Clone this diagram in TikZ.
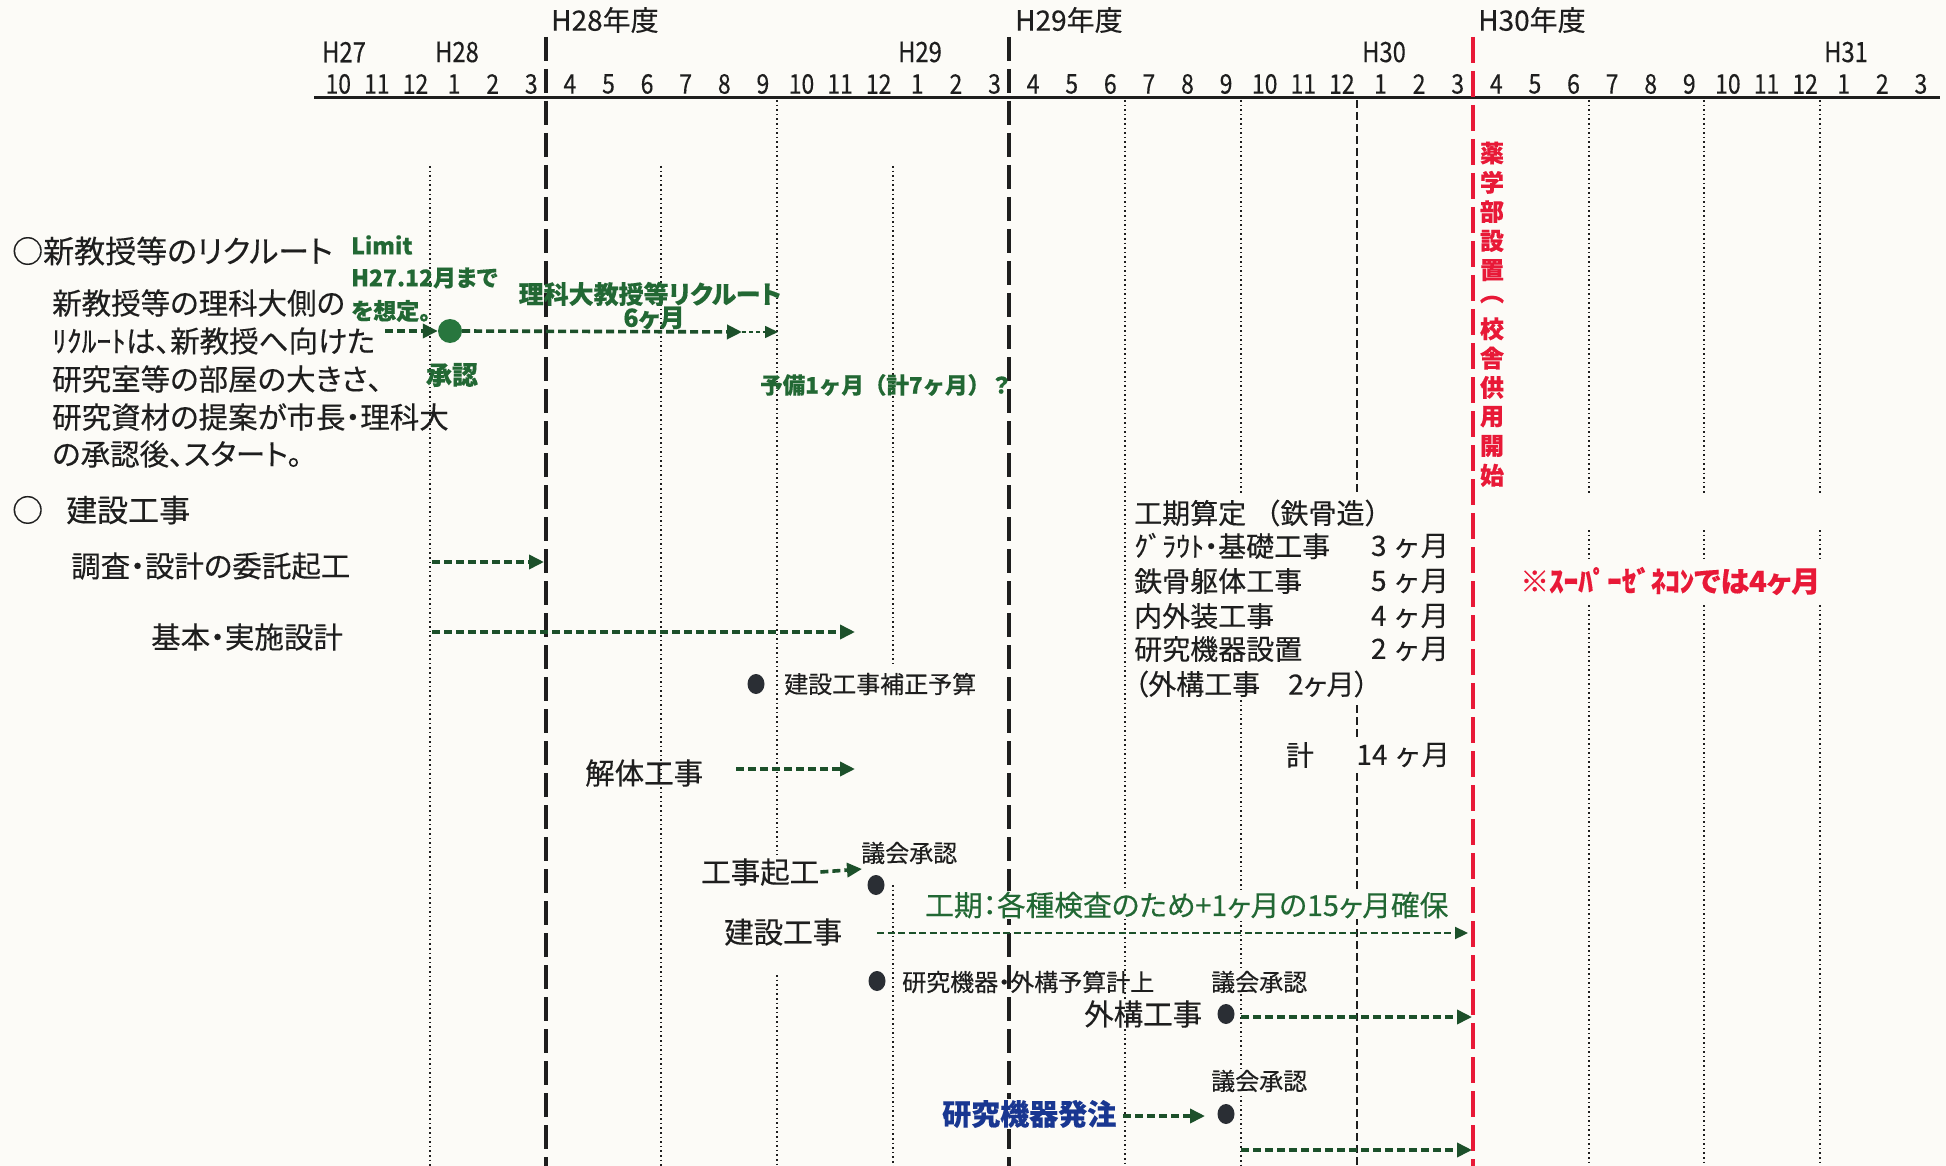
\documentclass[tikz,border=0pt]{standalone}
\usepackage{fontspec}
\setmainfont{Noto Sans CJK JP}[RawFeature=+palt, FakeBold=0.3]
\newfontfamily\fullw{Noto Sans CJK JP}[FakeBold=0.3]
\newfontfamily\narrowf{Noto Sans CJK JP}[FakeStretch=0.85, FakeBold=0.3]
\usetikzlibrary{arrows.meta,shapes.geometric}
\definecolor{paper}{RGB}{252,251,247}
\definecolor{ink}{RGB}{30,30,30}
\definecolor{gtext}{RGB}{34,104,52}
\definecolor{garrow}{RGB}{28,80,42}
\definecolor{gdotc}{RGB}{40,118,62}
\definecolor{dotk}{RGB}{42,46,52}
\definecolor{redc}{RGB}{232,25,55}
\definecolor{bluec}{RGB}{25,55,145}
\newcommand\myfs[1]{\fontsize{#1pt}{#1pt}\selectfont}
\tikzset{
  txt/.style={inner sep=0pt, anchor=west, text=ink, font=\myfs{29.5}},
  hdr/.style={inner sep=0pt, anchor=west, text=ink, font=\myfs{31}},
  small/.style={inner sep=0pt, anchor=west, text=ink, font=\myfs{24}},
  tab/.style={inner sep=0pt, text=ink, font=\fullw\myfs{28}},
  tabp/.style={inner sep=0pt, text=ink, font=\myfs{28}},
  gt/.style={inner sep=0pt, text=gtext, font=\bfseries\myfs{23}},
  mon/.style={inner sep=0pt, text=ink, font=\narrowf\myfs{27}},
  yr/.style={inner sep=0pt, text=ink, font=\narrowf\myfs{28}},
  fy/.style={inner sep=0pt, anchor=west, text=ink, font=\fullw\myfs{28}},
  redv/.style={inner sep=0pt, text=redc, font=\bfseries\myfs{24}},
  masked/.style={fill=paper, inner sep=1pt},
  dotline/.style={draw=ink, line width=1.6pt, dash pattern=on 1.6pt off 3pt},
  dashline/.style={draw=ink, line width=1.6pt, dash pattern=on 8pt off 4pt},
  fyline/.style={draw=ink, line width=4pt, dash pattern=on 24pt off 8pt},
  redline/.style={draw=redc, line width=4.5pt, dash pattern=on 26pt off 8pt},
  garr/.style={draw=garrow, line width=3.6pt, dash pattern=on 8pt off 4pt, -{Triangle[length=15pt,width=14pt]}},
  garrthin/.style={draw=garrow, line width=2.2pt, dash pattern=on 7pt off 3.5pt, -{Triangle[length=13pt,width=12pt]}},
  kdot/.style={ellipse, fill=dotk, minimum width=17pt, minimum height=20pt, inner sep=0pt},
}
\begin{document}
\begin{tikzpicture}[x=1pt,y=-1pt]
\fill[paper] (0,0) rectangle (1946,1166);
\useasboundingbox (0,0) rectangle (1946,1166);

% ---------- time axis ----------
\coordinate (axL) at (314,98);
\coordinate (axR) at (1940,98);
\draw[ink, line width=3pt] (axL) -- (axR);
\foreach \lab [count=\k from 0] in {10,11,12,1,2,3,4,5,6,7,8,9,10,11,12,1,2,3,4,5,6,7,8,9,10,11,12,1,2,3,4,5,6,7,8,9,10,11,12,1,2,3}
  \node[mon] (mon\k) at ({319+(\k+0.5)*38.6},84) {\lab};
\node[yr] (yH27) at (344,52) {H27};
\node[yr] (yH28) at (457,52) {H28};
\node[yr] (yH29) at (920,52) {H29};
\node[yr] (yH30) at (1384,52) {H30};
\node[yr] (yH31) at (1846,52) {H31};
\node[fy] (fy28) at (551,20) {H28年度};
\node[fy] (fy29) at (1015,20) {H29年度};
\node[fy] (fy30) at (1478,20) {H30年度};

% ---------- vertical lines ----------
\draw[dotline] (430,166) -- (430,1166);
\draw[dotline] (661,166) -- (661,1166);
\draw[dotline] (777,100) -- (777,855);
\draw[dotline] (777,975) -- (777,1166);
\draw[dotline] (893,166) -- (893,665);
\draw[dotline] (893,885) -- (893,1166);
\draw[dotline] (1125,100) -- (1125,1166);
\draw[dotline] (1241,100) -- (1241,495);
\draw[dotline] (1241,700) -- (1241,1166);
\draw[dashline] (1357,100) -- (1357,495);
\draw[dashline] (1357,705) -- (1357,737);
\draw[dashline] (1357,773) -- (1357,1166);
\foreach \xx in {1589,1704,1820}{
  \draw[dotline] (\xx,100) -- (\xx,495);
  \draw[dotline] (\xx,530) -- (\xx,560);
  \draw[dotline] (\xx,605) -- (\xx,1166);
}
\draw[fyline] (546,37) -- (546,1166);
\draw[fyline] (1009,37) -- (1009,1166);
\draw[redline] (1473,37) -- (1473,1166);

% ---------- left texts ----------
\node[hdr] (hdr1) at (12,251) {○新教授等のリクルート};
\node[txt] (p1) at (52,303) {新教授等の理科大側の};
\node[txt] (p2) at (52,341) {ﾘｸﾙｰﾄは、新教授へ向けた};
\node[txt] (p3) at (52,379) {研究室等の部屋の大きさ、};
\node[txt] (p4) at (52,417) {研究資材の提案が市長・理科大};
\node[txt] (p5) at (52,454) {の承認後、スタート。};
\node[hdr] (hdr2) at (12,510) {○ \hspace{16pt}建設工事};
\node[txt] (t1) at (71,566) {調査・設計の委託起工};
\node[txt] (t2) at (151,637) {基本・実施設計};

% ---------- recruit row ----------
\node[gt, anchor=west] (lim1) at (351,245) {Limit};
\node[gt, anchor=west] (lim2) at (351,278) {H27.12月まで};
\node[gt, anchor=west] (lim3) at (351,311) {を想定。};
\node[gt, font=\bfseries\myfs{26}] (shonin) at (452,375) {承認};
\node[circle, fill=gdotc, minimum size=24pt, inner sep=0pt] (gdot) at (450,331) {};
\node[gt, font=\bfseries\myfs{25}] (rec) at (650,294) {理科大教授等リクルート};
\node[gt, font=\bfseries\myfs{25}] (six) at (654,318) {6ヶ月};
\node[gt, anchor=west, font=\fullw\bfseries\myfs{22.5}] (yobi) at (760,385) {予備1ヶ月（計7ヶ月）？};
\coordinate (a1s) at (385,331);
\coordinate (a2e) at (742,332);
\coordinate (a2f) at (778,332);
\draw[garr] (a1s) -- (gdot.west);
\draw[garr] (gdot.east) -- (a2e);
\draw[garrthin, line width=1.6pt, dash pattern=on 4pt off 3pt] (a2e) -- (a2f);

% ---------- design rows ----------
\coordinate (d1s) at (432,562);
\coordinate (d1e) at (544,562);
\coordinate (d2s) at (432,632);
\coordinate (d2e) at (855,632);
\draw[garr] (d1s) -- (d1e);
\draw[garr] (d2s) -- (d2e);

\node[kdot] (dot1) at (756,684) {};
\node[small] (hosei) at (784,684) {建設工事補正予算};

\node[txt] (kaitai) at (585,773) {解体工事};
\coordinate (k1s) at (736,769);
\coordinate (k1e) at (855,769);
\draw[garr] (k1s) -- (k1e);

\node[txt, masked] (kiko) at (700,872) {工事起工};
\node[small] (gikai1) at (861,853) {議会承認};
\node[kdot] (dot2) at (876,885) {};
\coordinate (kk) at (862,869);
\draw[garr] (kiko.east) -- (kk);

\node[txt, masked, text=gtext, font=\myfs{28.7}] (koki) at (924,905) {工期：各種検査のため+1ヶ月の15ヶ月確保};
\node[txt, masked] (kensetsu) at (723,932) {建設工事};
\coordinate (c1s) at (877,933);
\coordinate (c1e) at (1468,933);
\draw[garrthin] (c1s) -- (c1e);

\node[kdot] (dot3) at (877,981) {};
\node[small] (yosan) at (902,982) {研究機器・外構予算計上};
\node[small, masked] (gikai2) at (1210,982) {議会承認};
\node[txt, masked] (gaiko) at (1083,1014) {外構工事};
\node[kdot] (dot4) at (1226,1014) {};
\coordinate (g1s) at (1241,1017);
\coordinate (g1e) at (1472,1017);
\draw[garr] (g1s) -- (g1e);

\node[small, masked] (gikai3) at (1210,1081) {議会承認};
\node[txt, masked, text=bluec, font=\bfseries\myfs{29}] (hatchu) at (941,1114) {研究機器発注};
\node[kdot] (dot5) at (1226,1114) {};
\path (hatchu.east) ++(6,2) coordinate (h1s);
\coordinate (h1e) at (1205,1116);
\draw[garr] (h1s) -- (h1e);
\coordinate (h2s) at (1241,1150);
\coordinate (h2e) at (1472,1150);
\draw[garr] (h2s) -- (h2e);

% ---------- table ----------
\node[tab, anchor=west, masked] (r0) at (1133,513) {工期算定 （鉄骨造）};
\node[tabp, anchor=west, masked] (r1) at (1133,546) {ｸﾞﾗｳﾄ・基礎工事};
\node[tab, anchor=west, masked] (r2) at (1133,581) {鉄骨躯体工事};
\node[tab, anchor=west, masked] (r3) at (1133,616) {内外装工事};
\node[tab, anchor=west, masked] (r4) at (1133,649) {研究機器設置};
\node[tabp, anchor=west, masked] (r5) at (1133,684) {（外構工事　2ヶ月）};
\node[tab, anchor=east, masked] (v1) at (1450,546) {3 ヶ月};
\node[tab, anchor=east, masked] (v2) at (1450,581) {5 ヶ月};
\node[tab, anchor=east, masked] (v3) at (1450,616) {4 ヶ月};
\node[tab, anchor=east, masked] (v4) at (1450,649) {2 ヶ月};
\node[tab] (kei) at (1300,755) {計};
\node[tab, anchor=east] (v5) at (1450,755) {14 ヶ月};

% ---------- red notes ----------
\node[inner sep=0pt, anchor=west, masked, text=redc, font=\bfseries\myfs{29}] (super) at (1519,581) {※ｽｰﾊﾟｰｾﾞﾈｺﾝでは4ヶ月};
\foreach \c [count=\i from 0] in {薬,学,部,設,置,︵,校,舎,供,用,開,始}
  \node[redv] (rv\i) at (1492,{153+\i*29.3}) {\c};
\end{tikzpicture}
\end{document}
